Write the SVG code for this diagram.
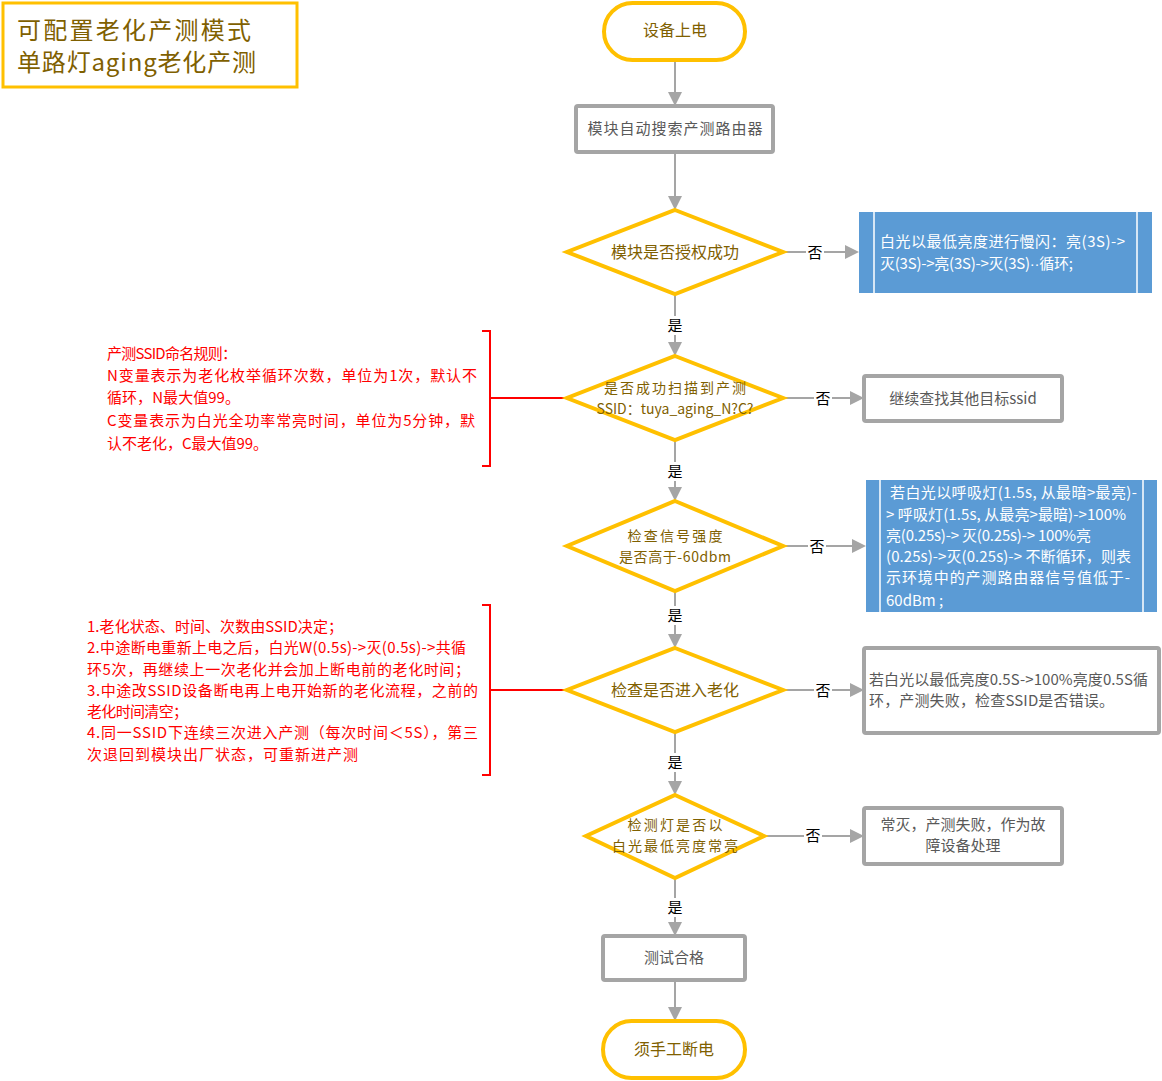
<svg xmlns="http://www.w3.org/2000/svg" width="1162" height="1081" viewBox="0 0 1162 1081">
<style>
text{font-family:"Noto Sans CJK SC","Noto Sans",sans-serif;}
.term{fill:#fff;stroke:#FFC000;stroke-width:4;}
.dia{fill:#fff;stroke:#FFC000;stroke-width:4;}
.gbox{fill:#fff;stroke:#A5A5A5;stroke-width:4;}
.bbox{fill:#5B9BD5;}
.bline{stroke:#fff;stroke-width:1.5;}
.tt{font-size:16px;fill:#7F6000;text-anchor:middle;}
.t2{font-size:14px;fill:#7F6000;text-anchor:middle;}
.gt{font-size:15px;fill:#595959;text-anchor:middle;}
.gl{font-size:15px;fill:#595959;}
.wt{font-size:15px;fill:#fff;}
.rt{font-size:15px;fill:#FF0000;}
.lab{font-size:15px;fill:#000;text-anchor:middle;}
.con{stroke:#A5A5A5;stroke-width:2;fill:none;marker-end:url(#ah);}
.red{stroke:#FF0000;stroke-width:2;fill:none;}
</style>
<defs>
<marker id="ah" markerUnits="userSpaceOnUse" markerWidth="14" markerHeight="14" viewBox="0 0 14 14" refX="12" refY="7" orient="auto">
<path d="M0,0 L14,7 L0,14 Z" fill="#A5A5A5"/>
</marker>
</defs>
<rect width="1162" height="1081" fill="#fff"/>

<g id="title">
<rect x="3" y="3" width="294" height="84" fill="#fff" stroke="#FFC000" stroke-width="3"/>
<text x="17" y="39" font-size="24" fill="#7F6000" textLength="234">可配置老化产测模式</text>
<text x="17" y="71" font-size="24" fill="#7F6000" textLength="239">单路灯aging老化产测</text>
</g>

<g id="connectors">
<path class="con" d="M675,60 V104"/>
<path class="con" d="M675,152 V208"/>
<path class="con" d="M783,252 H857"/>
<path class="con" d="M675,294 V354"/>
<path class="con" d="M783,398 H862"/>
<path class="con" d="M675,440 V499"/>
<path class="con" d="M783,546 H864"/>
<path class="con" d="M675,591 V646"/>
<path class="con" d="M783,690 H862"/>
<path class="con" d="M675,732 V793"/>
<path class="con" d="M764,836 H862"/>
<path class="con" d="M675,878 V934"/>
<path class="con" d="M675,980 V1019"/>
<path class="red" d="M482,331 H490 V466 H482 M490,398 H567"/>
<path class="red" d="M482,605 H490 V775 H482 M490,690 H567"/>
<g>
<rect x="806" y="243" width="18" height="19" fill="#fff"/><text class="lab" x="815" y="258">否</text>
<rect x="666" y="316" width="18" height="19" fill="#fff"/><text class="lab" x="675" y="331">是</text>
<rect x="814" y="389" width="18" height="19" fill="#fff"/><text class="lab" x="823" y="404">否</text>
<rect x="666" y="462" width="18" height="19" fill="#fff"/><text class="lab" x="675" y="477">是</text>
<rect x="808" y="537" width="18" height="19" fill="#fff"/><text class="lab" x="817" y="552">否</text>
<rect x="666" y="606" width="18" height="19" fill="#fff"/><text class="lab" x="675" y="621">是</text>
<rect x="814" y="681" width="18" height="19" fill="#fff"/><text class="lab" x="823" y="696">否</text>
<rect x="666" y="753" width="18" height="19" fill="#fff"/><text class="lab" x="675" y="768">是</text>
<rect x="804" y="826" width="18" height="19" fill="#fff"/><text class="lab" x="813" y="841">否</text>
<rect x="666" y="898" width="18" height="19" fill="#fff"/><text class="lab" x="675" y="913">是</text>
</g>
</g>

<g id="start">
<rect class="term" x="604" y="3" width="141" height="57" rx="28.5"/>
<text class="tt" x="675" y="36">设备上电</text>
</g>

<g id="search">
<rect class="gbox" x="576" y="106" width="197" height="46" rx="2"/>
<text class="gt" x="675" y="134" textLength="175">模块自动搜索产测路由器</text>
</g>

<g id="auth">
<polygon class="dia" points="675,210 783,252 675,294 567,252"/>
<text class="tt" x="675" y="258">模块是否授权成功</text>
</g>

<g id="authFail">
<rect class="bbox" x="859" y="212" width="293" height="81"/>
<line class="bline" x1="874" y1="212" x2="874" y2="293"/>
<line class="bline" x1="1137" y1="212" x2="1137" y2="293"/>
<text class="wt" x="880" y="247" textLength="245">白光以最低亮度进行慢闪：亮(3S)-&gt;</text>
<text class="wt" x="880" y="269" textLength="193">灭(3S)-&gt;亮(3S)-&gt;灭(3S)<tspan font-family="Liberation Sans">··</tspan>循环;</text>
</g>

<g id="scan">
<polygon class="dia" points="675,356 783,398 675,440 567,398"/>
<text class="t2" x="675" y="393" textLength="142">是否成功扫描到产测</text>
<text class="t2" x="675" y="414" textLength="157">SSID：tuya_aging_N?C?</text>
</g>

<g id="scanFail">
<rect class="gbox" x="864" y="376" width="198" height="45" rx="2"/>
<text class="gt" x="963" y="404">继续查找其他目标ssid</text>
</g>

<g id="note1">
<text class="rt" x="107" y="359" textLength="130">产测SSID命名规则：</text>
<text class="rt" x="107" y="381" textLength="370">N变量表示为老化枚举循环次数，单位为1次，默认不</text>
<text class="rt" x="107" y="403" textLength="133">循环，N最大值99。</text>
<text class="rt" x="107" y="426" textLength="368">C变量表示为白光全功率常亮时间，单位为5分钟，默</text>
<text class="rt" x="107" y="449" textLength="161">认不老化，C最大值99。</text>
</g>

<g id="signal">
<polygon class="dia" points="675,501 783,546 675,591 567,546"/>
<text class="t2" x="675" y="541" textLength="95">检查信号强度</text>
<text class="t2" x="675" y="562" textLength="112">是否高于-60dbm</text>
</g>

<g id="signalFail">
<rect class="bbox" x="866" y="480" width="291" height="132"/>
<line class="bline" x1="880" y1="480" x2="880" y2="612"/>
<line class="bline" x1="1143" y1="480" x2="1143" y2="612"/>
<text class="wt" x="890" y="498" textLength="247">若白光以呼吸灯(1.5s, 从最暗&gt;最亮)-</text>
<text class="wt" x="886" y="520" textLength="240">&gt; 呼吸灯(1.5s, 从最亮&gt;最暗)-&gt;100%</text>
<text class="wt" x="886" y="541" textLength="205">亮(0.25s)-&gt; 灭(0.25s)-&gt; 100%亮</text>
<text class="wt" x="886" y="562" textLength="245">(0.25s)-&gt;灭(0.25s)-&gt; 不断循环，则表</text>
<text class="wt" x="886" y="583" textLength="244">示环境中的产测路由器信号值低于-</text>
<text class="wt" x="886" y="606">60dBm ;</text>
</g>

<g id="aging">
<polygon class="dia" points="675,648 783,690 675,732 567,690"/>
<text class="tt" x="675" y="696">检查是否进入老化</text>
</g>

<g id="agingFail">
<rect class="gbox" x="864" y="648" width="295" height="85" rx="2"/>
<text class="gl" x="869" y="685" textLength="279">若白光以最低亮度0.5S-&gt;100%亮度0.5S循</text>
<text class="gl" x="869" y="706" textLength="245">环，产测失败，检查SSID是否错误。</text>
</g>

<g id="note2">
<text class="rt" x="87" y="632" textLength="256">1.老化状态、时间、次数由SSID决定；</text>
<text class="rt" x="87" y="653" textLength="379">2.中途断电重新上电之后，白光W(0.5s)-&gt;灭(0.5s)-&gt;共循</text>
<text class="rt" x="87" y="675" textLength="383">环5次，再继续上一次老化并会加上断电前的老化时间；</text>
<text class="rt" x="87" y="696" textLength="391">3.中途改SSID设备断电再上电开始新的老化流程，之前的</text>
<text class="rt" x="87" y="717" textLength="101">老化时间清空；</text>
<text class="rt" x="87" y="738" textLength="391">4.同一SSID下连续三次进入产测（每次时间＜5S），第三</text>
<text class="rt" x="87" y="760" textLength="271">次退回到模块出厂状态，可重新进产测</text>
</g>

<g id="light">
<polygon class="dia" points="675,795 764,836 675,878 586,836"/>
<text class="t2" x="675" y="830" textLength="95">检测灯是否以</text>
<text class="t2" x="675" y="851" textLength="126">白光最低亮度常亮</text>
</g>

<g id="lightFail">
<rect class="gbox" x="864" y="808" width="198" height="56" rx="2"/>
<text class="gt" x="963" y="830">常灭，产测失败，作为故</text>
<text class="gt" x="963" y="851">障设备处理</text>
</g>

<g id="pass">
<rect class="gbox" x="603" y="936" width="142" height="44" rx="2"/>
<text class="gt" x="674" y="963">测试合格</text>
</g>

<g id="end">
<rect class="term" x="603" y="1021" width="142" height="57" rx="28.5"/>
<text class="tt" x="674" y="1055">须手工断电</text>
</g>
</svg>
